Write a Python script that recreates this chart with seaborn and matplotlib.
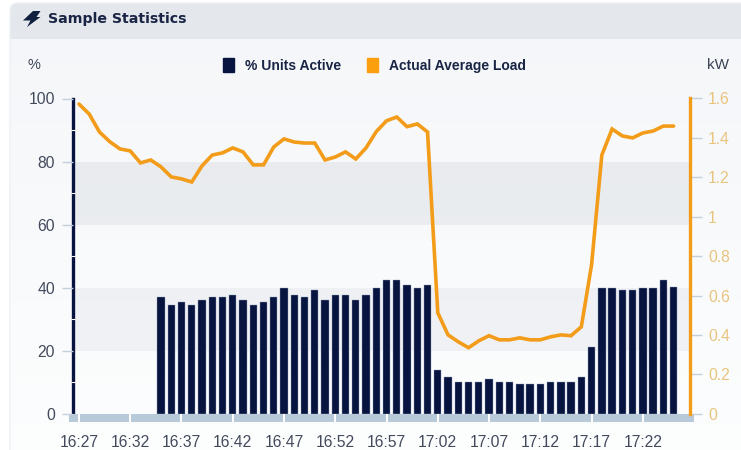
import numpy as np
import pandas as pd
import seaborn as sns
import matplotlib
matplotlib.use("Agg")
import matplotlib.pyplot as plt
from matplotlib.patches import Polygon, Rectangle, FancyBboxPatch, Patch
from matplotlib.ticker import FixedLocator

times = [f"{16 + (27 + i) // 60}:{(27 + i) % 60:02d}" for i in range(59)]
units_active = [np.nan] * 8 + [
    36.9, 34.6, 35.4, 34.6, 36.2, 36.9, 36.9, 37.7, 36.2, 34.6, 35.4, 36.9, 40.0,
    37.7, 36.9, 39.2, 36.2, 37.7, 37.7, 36.2, 37.7, 40.0, 42.3, 42.3, 40.8, 40.0,
    40.8, 14.0, 11.7, 10.2, 10.2, 10.2, 10.9, 10.2, 10.2, 9.4, 9.4, 9.4, 10.2,
    10.2, 10.2, 11.7, 21.1, 40.0, 40.0, 39.2, 39.2, 40.0, 40.0, 42.3, 40.3]
avg_load = [
    1.572, 1.521, 1.43, 1.381, 1.344, 1.334, 1.273, 1.288, 1.253, 1.202, 1.192,
    1.176, 1.258, 1.313, 1.324, 1.349, 1.329, 1.263, 1.263, 1.354, 1.395, 1.379,
    1.374, 1.374, 1.288, 1.303, 1.329, 1.293, 1.349, 1.432, 1.487, 1.506, 1.457,
    1.471, 1.43, 0.512, 0.40, 0.365, 0.335, 0.37, 0.396, 0.375, 0.375, 0.385,
    0.375, 0.375, 0.39, 0.40, 0.396, 0.441, 0.756, 1.313, 1.445, 1.41, 1.40,
    1.425, 1.435, 1.46, 1.46]
left_ticks = [0, 20, 40, 60, 80, 100]
right_ticks = [0, 0.2, 0.4, 0.6, 0.8, 1, 1.2, 1.4, 1.6]
right_labels = ["0", "0.2", "0.4", "0.6", "0.8", "1", "1.2", "1.4", "1.6"]
bands = [(20, 40), (60, 80)]

df = pd.DataFrame({"time": times, "units": units_active, "load": avg_load})

NAVY = "#06143f"
ORANGE = "#f39c1a"
TICK = "#c3cfdc"
W, H = 741, 450
sns.set_theme(style="white")
plt.rcParams["font.family"] = ["Liberation Sans", "DejaVu Sans"]
fig = plt.figure(figsize=(W / 100, H / 100), dpi=100, facecolor="white")

# card background
bg = fig.add_axes([0, 0, 1, 1], zorder=-5)
bg.set_xlim(0, W); bg.set_ylim(H, 0); bg.axis("off")
grad = np.linspace(0, 1, 256)[:, None, None] * (np.array([253, 254, 254]) - np.array([244, 246, 249])) + np.array([244, 246, 249])
im = bg.imshow(grad / 255, extent=(10, W + 30, H + 30, 3), aspect="auto", zorder=1)
card = FancyBboxPatch((10, 3), W + 20, H + 20, boxstyle="round,pad=0,rounding_size=8",
                      fc="none", ec="#eef0f4", lw=1, zorder=2, transform=bg.transData)
bg.add_patch(card)
im.set_clip_path(card)
hdr = Rectangle((10, 3), W + 30, 36, fc="#e4e7ec", ec="none", zorder=1.5)
bg.add_patch(hdr); hdr.set_clip_path(card)
bg.set_xlim(0, W); bg.set_ylim(H, 0)
bolt = [(33, 11), (40.5, 11), (36.5, 17), (40.5, 17), (27, 27), (30.5, 20.5), (23, 20.5)]
bg.add_patch(Polygon(bolt, closed=True, fc="#10203f", ec="none", zorder=3))

# main axes
ax = fig.add_axes([72.5 / W, 1 - 413.7 / H, (690 - 72.5) / W, (413.7 - 98.5) / H], facecolor="none")
for lo, hi in bands:
    ax.axhspan(lo, hi, color="#7c8696", alpha=0.11 if lo > 40 else 0.08, lw=0, zorder=0)
sns.barplot(data=df, x="time", y="units", color=NAVY, width=0.72, saturation=1, ax=ax, zorder=2,
            edgecolor="#8d9bb8", linewidth=0.3)
ax.set_xlim(-0.63, 59.6)
ax.set_ylim(0, 100)
ax.set_xlabel(""); ax.set_ylabel("")
ax.set_yticks(left_ticks)
ax.yaxis.set_minor_locator(FixedLocator([10, 30, 50, 70, 90]))
ax.set_xticks(range(0, 59, 5))
ax.set_xticklabels(times[::5])
for s in ("top", "right"):
    ax.spines[s].set_visible(False)
ax.spines["left"].set(color=NAVY, linewidth=2.4)
ax.spines["bottom"].set(color="#b8c9da", linewidth=5.8, position=("outward", 2.9))
ax.set_axisbelow(False)
ax.tick_params(axis="x", which="major", direction="inout", length=5.8, width=1.4, color="white",
               pad=9.5, labelsize=11.3, labelcolor="#434a5c", bottom=True)
ax.tick_params(axis="y", which="major", direction="out", length=8, width=1, color=TICK,
               pad=4.5, labelsize=11.3, labelcolor="#434a5c", left=True)
ax.tick_params(axis="y", which="minor", direction="inout", length=3.4, width=0.8, color="white", left=True)

ax2 = ax.twinx()
ax2.set_facecolor("none")
sns.lineplot(data=df, x="time", y="load", color=ORANGE, linewidth=2.6, ax=ax2, zorder=3,
             solid_joinstyle="miter", sort=False)
ax2.set_xlim(ax.get_xlim())
ax2.set_ylim(0, 1.6)
ax2.set_xlabel(""); ax2.set_ylabel("")
ax2.set_yticks(right_ticks)
ax2.set_yticklabels(right_labels)
ax2.yaxis.set_minor_locator(FixedLocator([0.1, 0.3, 0.5, 0.7, 0.9, 1.1, 1.3, 1.5]))
for s in ("top", "left", "bottom"):
    ax2.spines[s].set_visible(False)
ax2.spines["right"].set(color=ORANGE, linewidth=2.4)
ax2.tick_params(axis="y", which="major", direction="out", length=8.5, width=1, color=TICK,
                pad=4.5, labelsize=11.3, labelcolor="#e9c47e", right=True)
ax2.tick_params(axis="y", which="minor", direction="inout", length=3.4, width=0.8, color="white", right=True)
ax2.tick_params(axis="x", bottom=False, labelbottom=False)

# header texts
fig.text(48 / W, 1 - 19 / H, "Sample Statistics", family="DejaVu Sans", weight="bold", size=10.2,
         color="#1a2545", va="center", ha="left")
fig.text(33.5 / W, 1 - 65 / H, "%", size=10.5, color="#3d4456", va="center", ha="center")
fig.text(718 / W, 1 - 65 / H, "kW", size=11, color="#3d4456", va="center", ha="center")

handles = [Patch(color=NAVY), Patch(color="#fb9f0e")]
leg = fig.legend(handles, ["% Units Active", "Actual Average Load"], ncols=2, loc="center",
                 bbox_to_anchor=(374.5 / W, 1 - 65.5 / H), frameon=False, handlelength=0.8, handleheight=1.15,
                 handletextpad=0.8, columnspacing=1.9, prop={"family": "Liberation Sans", "weight": "bold", "size": 10},
                 labelcolor="#1a2545")

fig.savefig("out.png", dpi=100)
